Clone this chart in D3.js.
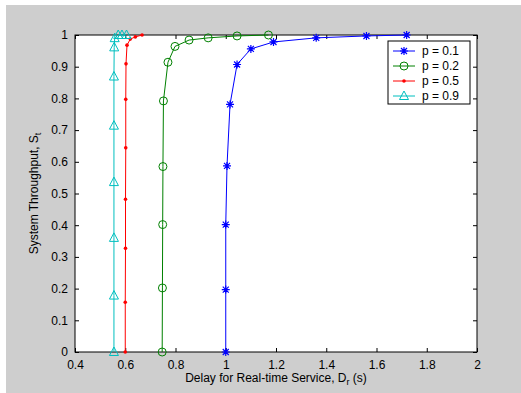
<!DOCTYPE html>
<html>
<head>
<meta charset="utf-8">
<style>
  html, body { margin: 0; padding: 0; background: #ffffff; }
  svg { display: block; font-family: "Liberation Sans", Arial, sans-serif; }
</style>
</head>
<body>
<div id="chart"></div>
<script src="https://d3js.org/d3.v7.min.js"></script>
<script>
// data
const p01x = [1.0, 1.0, 1.0, 1.005, 1.017, 1.045, 1.10, 1.19, 1.36, 1.56, 1.72];
const p01y = [0, 0.197, 0.402, 0.587, 0.781, 0.907, 0.956, 0.978, 0.991, 0.997, 1.0];

const p02x = [0.747, 0.748, 0.749, 0.75, 0.752, 0.77, 0.798, 0.854, 0.93, 1.045, 1.17];
const p02y = [0, 0.202, 0.402, 0.585, 0.792, 0.914, 0.964, 0.984, 0.991, 0.997, 1.0];

const p05x = [0.6, 0.6, 0.601, 0.601, 0.602, 0.602, 0.603, 0.607, 0.62, 0.64, 0.667];
const p05y = [0, 0.157, 0.327, 0.482, 0.644, 0.797, 0.909, 0.968, 0.987, 0.994, 1.0];

const p09x = [0.555, 0.555, 0.555, 0.555, 0.555, 0.555, 0.556, 0.558, 0.572, 0.587, 0.605];
const p09y = [0, 0.178, 0.36, 0.536, 0.714, 0.869, 0.961, 0.99, 1.0, 1.0, 1.0];

const seriesNames = ['p = 0.1', 'p = 0.2', 'p = 0.5', 'p = 0.9'];
const seriesColors = ['#0000ff', '#008000', '#ff0000', '#00bfbf'];
const seriesMarkers = ['star', 'circle', 'dot', 'triangle'];

const xTicks = [0.4, 0.6, 0.8, 1, 1.2, 1.4, 1.6, 1.8, 2];
const yTicks = [0, 0.1, 0.2, 0.3, 0.4, 0.5, 0.6, 0.7, 0.8, 0.9, 1];

const width = 521, height = 393;
const plotLeft = 75, plotRight = 477, plotTop = 35, plotBottom = 352;

const svg = d3.select('#chart').append('svg')
  .attr('width', width)
  .attr('height', height);

// gray figure background
svg.append('rect')
  .attr('x', 6).attr('y', 5)
  .attr('width', width - 6).attr('height', height - 5)
  .attr('fill', '#cecece');

const xScale = d3.scaleLinear().domain([0.4, 2]).range([plotLeft, plotRight]);
const yScale = d3.scaleLinear().domain([0, 1]).range([plotBottom, plotTop]);

svg.append('rect')
  .attr('x', plotLeft).attr('y', plotTop)
  .attr('width', plotRight - plotLeft).attr('height', plotBottom - plotTop)
  .attr('fill', '#ffffff');

const fmt = d => (d === 0 || d === 1 || d === 2) ? String(d) : d3.format('.1f')(d);

function styleAxis(g) {
  g.select('.domain').remove();
  g.selectAll('.tick line').attr('stroke', '#000').attr('stroke-width', 1);
  g.selectAll('.tick text').attr('fill', '#000').attr('font-size', 12)
    .attr('font-family', '"Liberation Sans", Arial, sans-serif');
}

svg.append('g')
  .attr('transform', `translate(0,${plotBottom})`)
  .call(d3.axisBottom(xScale).tickValues(xTicks).tickFormat(fmt).tickSizeInner(-4).tickSizeOuter(0).tickPadding(8))
  .call(styleAxis);

svg.append('g')
  .attr('transform', `translate(0,${plotTop})`)
  .call(d3.axisTop(xScale).tickValues(xTicks).tickFormat('').tickSizeInner(-4).tickSizeOuter(0))
  .call(styleAxis);

svg.append('g')
  .attr('transform', `translate(${plotLeft},0)`)
  .call(d3.axisLeft(yScale).tickValues(yTicks).tickFormat(fmt).tickSizeInner(-4).tickSizeOuter(0).tickPadding(7))
  .call(styleAxis);

svg.append('g')
  .attr('transform', `translate(${plotRight},0)`)
  .call(d3.axisRight(yScale).tickValues(yTicks).tickFormat('').tickSizeInner(-4).tickSizeOuter(0))
  .call(styleAxis);

svg.append('rect')
  .attr('x', plotLeft).attr('y', plotTop)
  .attr('width', plotRight - plotLeft).attr('height', plotBottom - plotTop)
  .attr('fill', 'none').attr('stroke', '#000').attr('stroke-width', 1);

function drawMarker(g, kind, color) {
  if (kind === 'star') {
    g.append('path').attr('d', 'M-4,0H4M0,-4V4M-3,-3L3,3M-3,3L3,-3')
      .attr('stroke', color).attr('stroke-width', 1.2).attr('fill', 'none');
  } else if (kind === 'circle') {
    g.append('circle').attr('r', 4).attr('fill', 'none').attr('stroke', color).attr('stroke-width', 1);
  } else if (kind === 'dot') {
    g.append('circle').attr('r', 1.8).attr('fill', color);
  } else {
    g.append('path').attr('d', 'M0,-5L4.5,3.5H-4.5Z').attr('fill', 'none')
      .attr('stroke', color).attr('stroke-width', 1);
  }
}

const allSeries = [
  [p01x, p01y], [p02x, p02y], [p05x, p05y], [p09x, p09y]
];

const line = d3.line().x(d => xScale(d[0])).y(d => yScale(d[1]));

allSeries.forEach((s, i) => {
  const pts = s[0].map((x, k) => [x, s[1][k]]);
  svg.append('path')
    .datum(pts)
    .attr('d', line)
    .attr('fill', 'none')
    .attr('stroke', seriesColors[i])
    .attr('stroke-width', 1);
  pts.forEach(p => {
    const g = svg.append('g').attr('transform', `translate(${xScale(p[0])},${yScale(p[1])})`);
    drawMarker(g, seriesMarkers[i], seriesColors[i]);
  });
});

// legend
const legend = svg.append('g').attr('transform', 'translate(388,41)');
legend.append('rect')
  .attr('width', 82).attr('height', 63)
  .attr('fill', '#ffffff').attr('stroke', '#000').attr('stroke-width', 1);
seriesNames.forEach((name, i) => {
  const y = 10 + i * 15;
  legend.append('line')
    .attr('x1', 5).attr('x2', 27).attr('y1', y).attr('y2', y)
    .attr('stroke', seriesColors[i]).attr('stroke-width', 1);
  const g = legend.append('g').attr('transform', `translate(16,${y})`);
  drawMarker(g, seriesMarkers[i], seriesColors[i]);
  legend.append('text')
    .attr('x', 34).attr('y', y + 4)
    .attr('font-size', 12)
    .text(name);
});

// axis titles
const xt = svg.append('text')
  .attr('x', (plotLeft + plotRight) / 2).attr('y', 382)
  .attr('text-anchor', 'middle').attr('font-size', 12);
xt.append('tspan').text('Delay for Real-time Service, D');
xt.append('tspan').attr('font-size', 9).attr('dy', 3).text('r');
xt.append('tspan').attr('dy', -3).text(' (s)');

const yt = svg.append('text')
  .attr('transform', `translate(38,${(plotTop + plotBottom) / 2}) rotate(-90)`)
  .attr('text-anchor', 'middle').attr('font-size', 12);
yt.append('tspan').text('System Throughput, S');
yt.append('tspan').attr('font-size', 9).attr('dy', 3).text('t');
</script>
</body>
</html>
